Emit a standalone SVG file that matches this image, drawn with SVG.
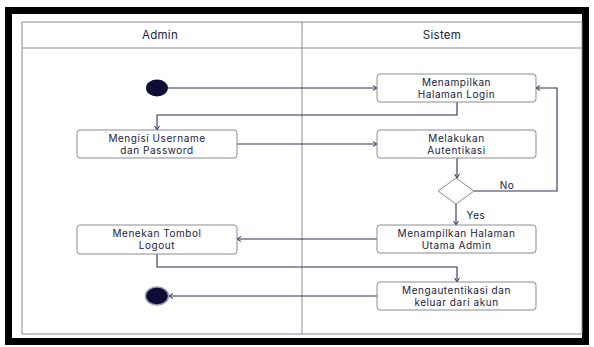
<svg xmlns="http://www.w3.org/2000/svg" width="594" height="347" viewBox="0 0 594 347">
<defs>
<style>
.lane{fill:none;stroke:#8a8aa0;stroke-width:1}
.box rect{fill:#fff;stroke:#8a8a99;stroke-width:1}
text{font-family:Inter,"Noto Sans","Liberation Sans",sans-serif;font-size:10px;letter-spacing:0.55px;fill:#22223a;text-anchor:middle}
.hdr{font-size:11.5px;letter-spacing:0.3px}
.conn{fill:none;stroke:#2e2e5c;stroke-width:1.1}
</style>
<marker id="ah" markerWidth="8" markerHeight="8" refX="6" refY="4" orient="auto" markerUnits="userSpaceOnUse">
<path d="M2,1.5 L6,4 L2,6.5" fill="none" stroke="#2e2e5c" stroke-width="1"/>
</marker>
</defs>
<rect x="0" y="0" width="594" height="347" fill="#fff"/>
<rect x="8.5" y="10.5" width="577" height="331" fill="none" stroke="#000" stroke-width="7"/>
<g id="lanes">
<rect class="lane" x="22" y="22" width="560" height="312"/>
<line class="lane" x1="22" y1="48" x2="582" y2="48"/>
<line class="lane" x1="302" y1="22" x2="302" y2="334"/>
<text class="hdr" x="160" y="39">Admin</text>
<text class="hdr" x="442" y="39">Sistem</text>
</g>
<g id="connectors">
<path class="conn" d="M168,88 H377" marker-end="url(#ah)"/>
<path class="conn" d="M457,102 V115 H157 V130" marker-end="url(#ah)"/>
<path class="conn" d="M237,144 H377" marker-end="url(#ah)"/>
<path class="conn" d="M457,158 V178" marker-end="url(#ah)"/>
<path class="conn" d="M474,191 H557 V88 H536" marker-end="url(#ah)"/>
<path class="conn" d="M456,204 V225" marker-end="url(#ah)"/>
<path class="conn" d="M377,239 H237" marker-end="url(#ah)"/>
<path class="conn" d="M157,254 V267 H457 V282" marker-end="url(#ah)"/>
<path class="conn" d="M377,296 H169" marker-end="url(#ah)"/>
<text x="507" y="189">No</text>
<text x="476" y="219">Yes</text>
</g>
<g id="start"><ellipse cx="157" cy="88" rx="11" ry="8.5" fill="#0d0d35"/></g>
<g id="login" class="box"><rect x="377" y="74" width="159" height="28" rx="3"/><text x="456.5" y="85.5">Menampilkan</text><text x="456.5" y="97.5">Halaman Login</text></g>
<g id="mengisi" class="box"><rect x="77" y="130" width="160" height="28" rx="3"/><text x="157" y="141.5">Mengisi Username</text><text x="157" y="153.5">dan Password</text></g>
<g id="auth" class="box"><rect x="377" y="130" width="159" height="28" rx="3"/><text x="456.5" y="141.5">Melakukan</text><text x="456.5" y="153.5">Autentikasi</text></g>
<g id="decision"><polygon points="456,178 474,191 456,204 438,191" fill="#fff" stroke="#8a8a99" stroke-width="1"/></g>
<g id="utama" class="box"><rect x="377" y="225" width="159" height="28" rx="3"/><text x="456.5" y="236.5">Menampilkan Halaman</text><text x="456.5" y="248.5">Utama Admin</text></g>
<g id="logout" class="box"><rect x="77" y="225" width="160" height="29" rx="3"/><text x="157" y="236.5">Menekan Tombol</text><text x="157" y="248.5">Logout</text></g>
<g id="keluar" class="box"><rect x="377" y="282" width="159" height="28" rx="3"/><text x="456.5" y="293.5">Mengautentikasi dan</text><text x="456.5" y="305.5">keluar dari akun</text></g>
<g id="end"><ellipse cx="157" cy="296" rx="11.5" ry="9" fill="#0d0d35" stroke="#9a9ab0" stroke-width="1.5"/></g>
</svg>
